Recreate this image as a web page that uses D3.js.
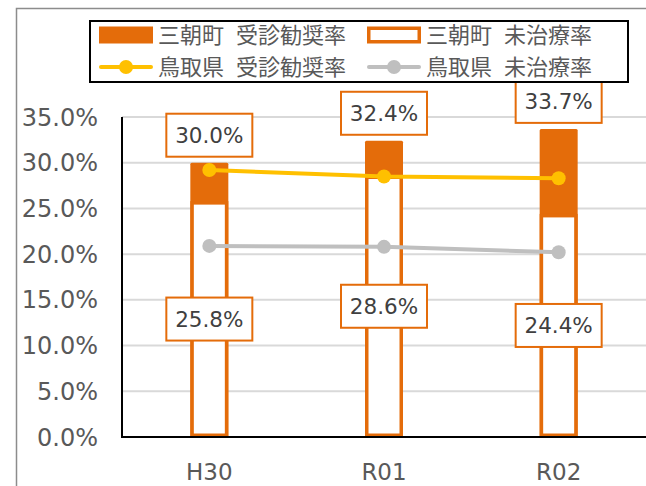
<!DOCTYPE html>
<html>
  <head>
    <meta charset="utf-8" />
    <script src="https://cdn.jsdelivr.net/npm/d3@7"></script>
    <style>
    body { margin: 0; background: #ffffff; }
    .tick-label { font-family: "DejaVu Sans", sans-serif; font-size: 24px; fill: #595959; }
    .cat-label { font-family: "DejaVu Sans", sans-serif; font-size: 23px; fill: #595959; }
    .val-label { font-family: "DejaVu Sans", sans-serif; font-size: 21.5px; fill: #404040; }
    .legend-text { font-family: "Noto Sans CJK JP", sans-serif; font-size: 22px; fill: #595959; }
    </style>
  </head>
  <body>
    <div id="chart"></div>
    <script type="text/javascript">
var categories = ["H30", "R01", "R02"];
var townReferral = [30.0, 32.4, 33.7];    // 三朝町 受診勧奨率
var townUntreated = [25.8, 28.6, 24.4];   // 三朝町 未治療率
var prefReferral = [29.2, 28.5, 28.3];    // 鳥取県 受診勧奨率
var prefUntreated = [20.9, 20.8, 20.2];   // 鳥取県 未治療率
var yTicks = [0, 5, 10, 15, 20, 25, 30, 35];
var legendNames = ["三朝町 受診勧奨率", "三朝町 未治療率", "鳥取県 受診勧奨率", "鳥取県 未治療率"];

var W = 646, H = 486;
var orange = "#E46C0A", yellow = "#FFC000", grey = "#BFBFBF";

var svg = d3.select("#chart").append("svg")
    .attr("width", W).attr("height", H);

// outer chart border (cut off at right/bottom)
svg.append("path")
    .attr("d", "M16.5," + H + "V8.5H" + W)
    .attr("fill", "none").attr("stroke", "#8c8c8c").attr("stroke-width", 1.5);

var x = d3.scaleBand().domain(categories).range([122, 646]);
var y = d3.scaleLinear().domain([0, 35]).range([437, 117]);
var barW = 38;
var cx = function(c) { return x(c) + x.bandwidth() / 2; };

// gridlines
svg.append("g").selectAll("line").data(yTicks.slice(1)).enter().append("line")
    .attr("x1", 122).attr("x2", W)
    .attr("y1", function(d) { return y(d); }).attr("y2", function(d) { return y(d); })
    .attr("stroke", "#d9d9d9").attr("stroke-width", 2);

// y tick labels
svg.append("g").selectAll("text").data(yTicks).enter().append("text")
    .attr("class", "tick-label")
    .attr("x", 98).attr("y", function(d) { return y(d); })
    .attr("dy", "0.36em").attr("text-anchor", "end")
    .text(function(d) { return d.toFixed(1) + "%"; });

// x labels
svg.append("g").selectAll("text").data(categories).enter().append("text")
    .attr("class", "cat-label")
    .attr("x", function(d) { return cx(d); }).attr("y", 472)
    .attr("dy", "0.36em").attr("text-anchor", "middle")
    .text(function(d) { return d; });

// filled bars: 受診勧奨率
svg.append("g").selectAll("rect").data(townReferral).enter().append("rect")
    .attr("x", function(d, i) { return cx(categories[i]) - barW / 2; })
    .attr("y", function(d) { return y(d); })
    .attr("width", barW)
    .attr("height", function(d) { return y(0) - y(d); })
    .attr("rx", 1.5)
    .attr("fill", orange);

// outline bars: 未治療率
var sw = 3.5;
svg.append("g").selectAll("rect").data(townUntreated).enter().append("rect")
    .attr("x", function(d, i) { return cx(categories[i]) - barW / 2 + sw / 2; })
    .attr("y", function(d) { return y(d) + sw / 2; })
    .attr("width", barW - sw)
    .attr("height", function(d) { return y(0) - y(d) - sw; })
    .attr("fill", "#ffffff").attr("stroke", orange).attr("stroke-width", sw);

// axes lines
svg.append("line").attr("x1", 122).attr("x2", 122).attr("y1", 117).attr("y2", 438)
    .attr("stroke", "#000").attr("stroke-width", 2);
svg.append("line").attr("x1", 121).attr("x2", W).attr("y1", 437).attr("y2", 437)
    .attr("stroke", "#000").attr("stroke-width", 2);

// prefecture lines
function drawLine(values, color) {
    var line = d3.line()
        .x(function(d, i) { return cx(categories[i]); })
        .y(function(d) { return y(d); });
    svg.append("path").datum(values)
        .attr("d", line).attr("fill", "none")
        .attr("stroke", color).attr("stroke-width", 4).attr("stroke-linecap", "round");
    svg.append("g").selectAll("circle").data(values).enter().append("circle")
        .attr("cx", function(d, i) { return cx(categories[i]); })
        .attr("cy", function(d) { return y(d); })
        .attr("r", 7).attr("fill", color);
}
drawLine(prefUntreated, grey);
drawLine(prefReferral, yellow);

// data labels with boxes
var boxW = 86, boxH = 43;
function drawLabel(xc, yc, v) {
    var g = svg.append("g");
    g.append("rect")
        .attr("x", xc - boxW / 2).attr("y", yc - boxH / 2)
        .attr("width", boxW).attr("height", boxH)
        .attr("fill", "#ffffff").attr("stroke", orange).attr("stroke-width", 2);
    g.append("text").attr("class", "val-label")
        .attr("x", xc).attr("y", yc).attr("dy", "0.36em")
        .attr("text-anchor", "middle")
        .text(v.toFixed(1) + "%");
}
townReferral.forEach(function(v, i) {
    drawLabel(cx(categories[i]), y(v) - 6 - boxH / 2, v);
});
townUntreated.forEach(function(v, i) {
    drawLabel(cx(categories[i]), y(v / 2), v);
});

// legend
var lg = svg.append("g");
lg.append("rect").attr("x", 90).attr("y", 21).attr("width", 538).attr("height", 61)
    .attr("fill", "#ffffff").attr("stroke", "#000").attr("stroke-width", 2);
var legendPos = [[99, 35], [367, 35], [99, 67], [367, 67]];
legendNames.forEach(function(name, i) {
    var px = legendPos[i][0], py = legendPos[i][1];
    if (i === 0) {
        lg.append("rect").attr("x", px).attr("y", py - 8.5).attr("width", 54).attr("height", 17)
            .attr("fill", orange);
    } else if (i === 1) {
        lg.append("rect").attr("x", px + 1.75).attr("y", py - 6.75).attr("width", 50.5).attr("height", 13.5)
            .attr("fill", "#fff").attr("stroke", orange).attr("stroke-width", 3.5);
    } else {
        var c = i === 2 ? yellow : grey;
        lg.append("line").attr("x1", px + 2).attr("x2", px + 52).attr("y1", py).attr("y2", py)
            .attr("stroke", c).attr("stroke-width", 4).attr("stroke-linecap", "round");
        lg.append("circle").attr("cx", px + 27).attr("cy", py).attr("r", 7).attr("fill", c);
    }
    var parts = name.split(" ");
    var t = lg.append("text").attr("class", "legend-text")
        .attr("x", px + 59).attr("y", py).attr("dy", "0.36em");
    t.append("tspan").text(parts[0]);
    t.append("tspan").attr("dx", 12).text(parts[1]);
});
    </script>
  </body>
</html>
